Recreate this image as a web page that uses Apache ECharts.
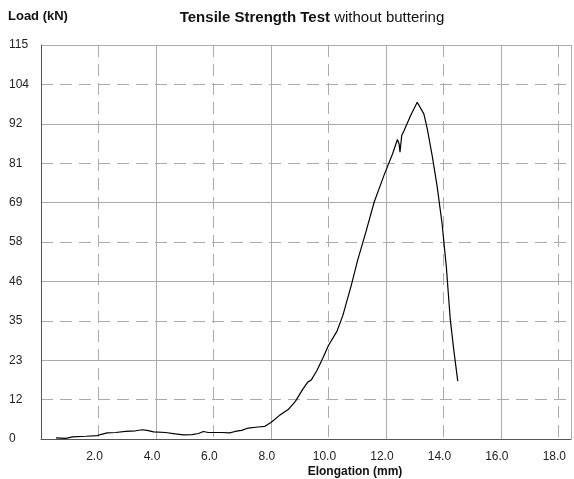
<!DOCTYPE html>
<html>
<head>
<meta charset="utf-8">
<script src="https://cdn.jsdelivr.net/npm/echarts@6/dist/echarts.min.js"></script>
<style>html,body{margin:0;padding:0;background:#fff;}#c{width:574px;height:479px;}</style>
</head>
<body>
<div id="c"></div>
<script>
const elongation = [0.52,0.86,1.1,1.56,1.96,2.07,2.3,2.6,2.94,3.29,3.52,3.69,3.92,4.33,4.67,4.96,5.25,5.48,5.65,5.82,6.28,6.57,6.75,6.98,7.21,7.55,7.79,7.84,8.0,8.3,8.6,8.85,9.1,9.28,9.4,9.6,9.8,10.0,10.3,10.5,10.8,11.01,11.13,11.3,11.59,11.76,11.94,12.23,12.4,12.46,12.49,12.55,12.63,12.86,13.09,13.32,13.44,13.61,13.78,13.95,14.1,14.24,14.36,14.5];
const load = [0.3,0.2,0.6,0.8,1.0,1.3,1.8,1.9,2.2,2.4,2.7,2.5,2.1,1.9,1.5,1.2,1.3,1.6,2.2,1.9,1.9,1.8,2.2,2.5,3.2,3.5,3.7,3.5,4.8,6.9,8.6,11,14.4,16.6,17.2,20,23.5,27.3,31.5,36,45,52,55.4,60.3,69.1,73,77.1,83.2,87.4,86.1,83.7,88.6,90.0,94.4,98.3,94.9,90.5,82.7,73.9,63.2,50.5,34.9,26.1,16.9];
const titleMain = 'Tensile Strength Test';
const titleSub = ' without buttering';
const yTitle = 'Load (kN)';
const xTitle = 'Elongation (mm)';
const xMin = 0, xMax = 18.44, xStep = 2;
const yMin = 0, yMax = 115, yStep = 11.5;

const gridColor = '#ababab';
const axisColor = '#555';
const font = 'Liberation Sans, Arial, sans-serif';

const chart = echarts.init(document.getElementById('c'), null, {renderer: 'canvas'});
chart.setOption({
  animation: false,
  backgroundColor: '#fff',
  title: [
    {text: yTitle, left: 3, top: 5, textStyle: {fontFamily: font, fontSize: 13, fontWeight: 'bold', color: '#111'}},
    {text: '{a|' + titleMain + '}{b|' + titleSub + '}', left: 307, top: 5, textAlign: 'center',
     textStyle: {rich: {a: {fontFamily: font, fontSize: 15, fontWeight: 'bold', color: '#111'}, b: {fontFamily: font, fontSize: 15, fontWeight: 'normal', color: '#111'}}}},
    {text: xTitle, left: 350, top: 461, textAlign: 'center', textStyle: {fontFamily: font, fontSize: 12, fontWeight: 'bold', color: '#111'}}
  ],
  grid: {left: 41, top: 45, right: 0, bottom: 40, containLabel: false},
  xAxis: [
    {type: 'value', min: xMin, max: xMax, interval: xStep,
     axisLine: {show: true, lineStyle: {color: axisColor, width: 1}},
     axisTick: {show: false},
     axisLabel: {color: '#222', fontFamily: font, fontSize: 12, margin: 12, padding: [0, 8, 0, 0],
       formatter: v => (v > 0 && Math.abs(v / xStep - Math.round(v / xStep)) < 1e-6) ? v.toFixed(1) : ''},
     splitLine: {show: true, lineStyle: {color: gridColor, width: 1, type: [12, 7]}}},
    {type: 'value', min: xMin, max: xMax, interval: xStep * 2, position: 'bottom',
     axisLine: {show: false}, axisTick: {show: false}, axisLabel: {show: false},
     splitLine: {show: true, lineStyle: {color: gridColor, width: 1, type: 'solid'}}}
  ],
  yAxis: [
    {type: 'value', min: yMin, max: yMax, interval: yStep,
     axisLine: {show: true, lineStyle: {color: axisColor, width: 1}},
     axisTick: {show: false},
     axisLabel: {color: '#222', fontFamily: font, fontSize: 12, margin: 32, align: 'left', padding: [0, 0, 6, 0],
       formatter: v => String(Math.round(v))},
     splitLine: {show: true, lineStyle: {color: gridColor, width: 1, type: [12, 7]}}},
    {type: 'value', min: yMin, max: yMax, interval: yStep * 2, position: 'left',
     axisLine: {show: false}, axisTick: {show: false}, axisLabel: {show: false},
     splitLine: {show: true, lineStyle: {color: gridColor, width: 1, type: 'solid'}}}
  ],
  series: [{
    type: 'line', xAxisIndex: 0, yAxisIndex: 0, showSymbol: false, symbol: 'none',
    lineStyle: {color: '#000', width: 1.2},
    data: elongation.map((x, i) => [x, load[i]]),
    z: 5
  }]
});
</script>
</body>
</html>
